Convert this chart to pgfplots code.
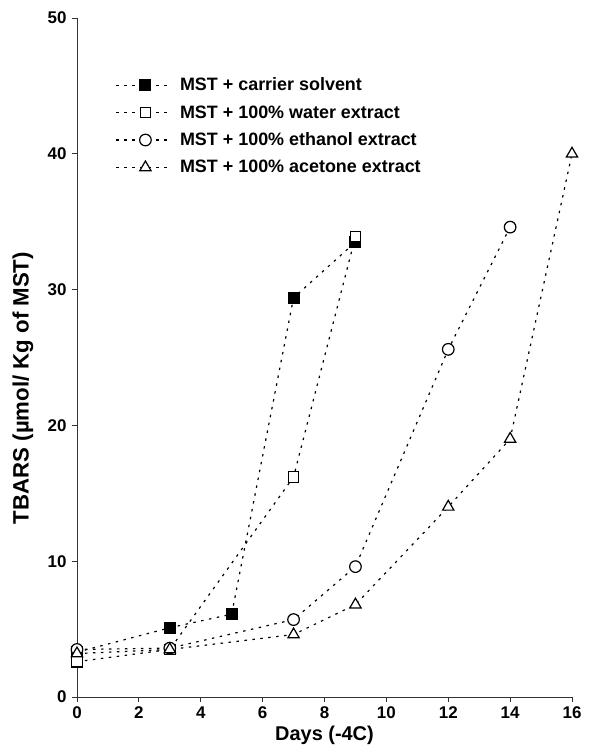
\documentclass[border=0pt]{standalone}
\usepackage{fontspec}
\setmainfont{Liberation Sans}
\usepackage{pgfplots}
\pgfplotsset{compat=1.18}
\usetikzlibrary{calc}
\begin{document}
\begin{tikzpicture}
\begin{axis}[
  scale only axis,
  width=495bp, height=679bp,
  xmin=0, xmax=16, ymin=0, ymax=50,
  xtick={0,2,...,16}, ytick={0,10,...,50},
  axis x line*=bottom, axis y line*=left,
  axis line style={line width=0.9bp, black!80},
  tick align=outside, major tick length=5bp,
  tick style={line width=0.9bp, black!80},
  /pgf/number format/assume math mode=true,
  ticklabel style={font=\fontsize{17}{17}\selectfont\bfseries},
  xticklabel style={yshift=-1bp},
  yticklabel style={xshift=-2bp},
  xlabel={Days (-4C)}, ylabel={TBARS (µmol/ Kg of MST)},
  xlabel style={font=\fontsize{20}{20}\selectfont\bfseries, at={(axis description cs:0.5,-0.057)}, anchor=center},
  ylabel style={font=\fontsize{22.3}{22.3}\selectfont\bfseries, at={(axis description cs:-0.109,0.455)}, anchor=center},
  every axis plot/.append style={black, line width=1.2bp, dash pattern=on 2.5bp off 5.5bp},
  legend style={at={(axis description cs:0.072,0.918)}, anchor=north west, draw=none, fill=none,
    font=\fontsize{18}{18}\selectfont\bfseries, row sep=9.2bp, column sep=8bp,
    nodes={inner sep=2bp}},
  legend cell align=left,
  legend image code/.code={\draw[mark repeat=2,mark phase=2] plot coordinates {(0bp,0bp) (29bp,0bp) (53bp,0bp)};},
]
\addplot[mark=square*, mark size=5.5bp, mark options={solid, fill=black, line width=1bp}]
  coordinates {(0,3.3) (3,5.1) (5,6.1) (7,29.4) (9,33.5)};
\addlegendentry{MST + carrier solvent}
\addplot[mark=square*, mark size=5.3bp, mark options={solid, fill=white, line width=1.2bp}]
  coordinates {(0,2.6) (3,3.5) (7,16.2) (9,33.9)};
\addlegendentry{MST + 100\% water extract}
\addplot[mark=*, mark size=5.8bp, mark options={solid, fill=white, line width=1.2bp}]
  coordinates {(0,3.5) (3,3.6) (7,5.7) (9,9.6) (12,25.6) (14,34.6)};
\addlegendentry{MST + 100\% ethanol extract}
\addplot[mark=triangle*, mark size=6.5bp, mark options={solid, fill=white, line width=1.2bp}]
  coordinates {(0,3.2) (3,3.5) (7,4.6) (9,6.8) (12,14.0) (14,19.0) (16,40.0)};
\addlegendentry{MST + 100\% acetone extract}
\coordinate (O) at (rel axis cs:0,0);
\end{axis}
\pgfresetboundingbox
\path[use as bounding box] ($(O)+(-77bp,-56bp)$) rectangle ($(O)+(521bp,697bp)$);
\end{tikzpicture}
\end{document}
